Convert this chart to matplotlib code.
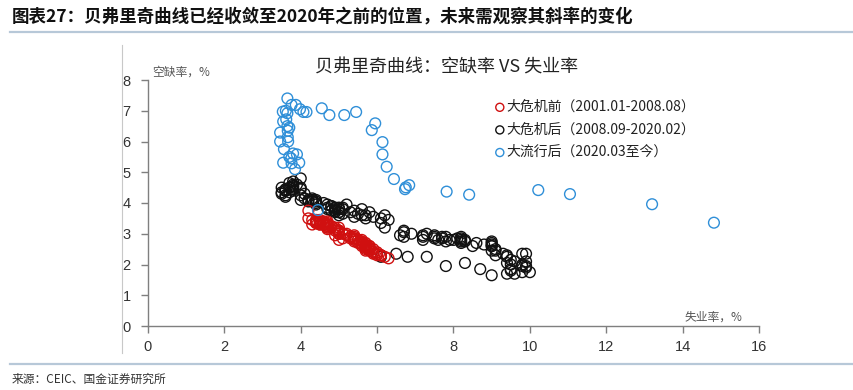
import matplotlib
matplotlib.use("Agg")
import matplotlib.pyplot as plt
from matplotlib.lines import Line2D

plt.rcParams['font.family'] = ['Noto Sans CJK SC', 'DejaVu Sans']

# ---------------- data ----------------
# 大危机前 (2001.01-2008.08): unemployment (%), vacancy (%)
red_u = [4.2, 4.2, 4.3, 4.4, 4.3, 4.5, 4.6, 4.9, 5.0, 5.3, 5.5, 5.7,
         5.7, 5.7, 5.7, 5.9, 5.8, 5.8, 5.8, 5.7, 5.7, 5.7, 5.9, 6.0,
         5.8, 5.9, 5.9, 6.0, 6.1, 6.3, 6.2, 6.1, 6.1, 6.0, 5.8, 5.7,
         5.7, 5.6, 5.8, 5.6, 5.6, 5.6, 5.5, 5.4, 5.4, 5.5, 5.4, 5.4,
         5.3, 5.4, 5.2, 5.2, 5.1, 5.0, 5.0, 4.9, 5.0, 5.0, 5.0, 4.9,
         4.7, 4.8, 4.7, 4.7, 4.6, 4.6, 4.7, 4.7, 4.5, 4.4, 4.5, 4.4,
         4.6, 4.5, 4.4, 4.5, 4.4, 4.6, 4.7, 4.6, 4.7, 4.7, 4.7, 5.0,
         5.0, 4.9, 5.1, 5.0, 5.4, 5.6, 5.8, 6.1]
red_v = [3.75, 3.50, 3.45, 3.40, 3.30, 3.35, 3.30, 3.10, 3.00, 2.85, 2.80, 2.70,
         2.65, 2.60, 2.55, 2.50, 2.55, 2.60, 2.50, 2.50, 2.55, 2.45, 2.40, 2.40,
         2.45, 2.40, 2.35, 2.30, 2.30, 2.20, 2.25, 2.30, 2.30, 2.35, 2.50, 2.60,
         2.60, 2.65, 2.60, 2.70, 2.75, 2.80, 2.70, 2.80, 2.85, 2.80, 2.90, 2.85,
         2.90, 2.95, 3.00, 2.95, 3.00, 3.10, 3.05, 3.15, 3.10, 3.20, 3.10, 3.20,
         3.30, 3.25, 3.35, 3.40, 3.30, 3.35, 3.25, 3.30, 3.40, 3.35, 3.30, 3.45,
         3.40, 3.30, 3.40, 3.45, 3.35, 3.30, 3.20, 3.30, 3.25, 3.20, 3.15, 3.00,
         3.00, 2.95, 2.85, 2.80, 2.75, 2.60, 2.45, 2.30]

# 大危机后 (2008.09-2020.02)
black_u = [6.1, 6.5, 6.8, 7.3,
           7.8, 8.3, 8.7, 9.0, 9.4, 9.5, 9.5, 9.6, 9.8, 10.0, 9.9, 9.9,
           9.8, 9.8, 9.9, 9.9, 9.6, 9.4, 9.4, 9.5, 9.5, 9.4, 9.8, 9.3,
           9.1, 9.0, 9.0, 9.1, 9.0, 9.1, 9.0, 9.0, 9.0, 8.8, 8.6, 8.5,
           8.3, 8.3, 8.2, 8.2, 8.2, 8.2, 8.2, 8.1, 7.8, 7.8, 7.7, 7.9,
           8.0, 7.7, 7.5, 7.6, 7.5, 7.5, 7.3, 7.2, 7.2, 7.2, 6.9, 6.7,
           6.6, 6.7, 6.7, 6.2, 6.3, 6.1, 6.2, 6.1, 5.9, 5.7, 5.8, 5.6,
           5.7, 5.5, 5.4, 5.4, 5.6, 5.3, 5.2, 5.1, 5.0, 5.0, 5.1, 5.0,
           4.8, 4.9, 5.0, 5.1, 4.8, 4.9, 4.8, 4.9, 5.0, 4.9, 4.7, 4.7,
           4.7, 4.6, 4.4, 4.4, 4.4, 4.3, 4.3, 4.4, 4.3, 4.2, 4.2, 4.1,
           4.0, 4.1, 4.0, 4.0, 3.8, 4.0, 3.8, 3.8, 3.7, 3.8, 3.8, 3.9,
           4.0, 3.8, 3.8, 3.7, 3.6, 3.6, 3.7, 3.6, 3.5, 3.6, 3.6, 3.6,
           3.5, 3.5]
black_v = [2.25, 2.35, 2.25, 2.25,
           1.95, 2.05, 1.85, 1.65, 1.70, 1.85, 1.80, 1.70, 1.75, 1.75, 1.90, 1.95,
           1.95, 2.00, 2.10, 2.35, 2.10, 2.05, 2.25, 2.00, 2.15, 2.30, 2.35, 2.35,
           2.30, 2.45, 2.60, 2.50, 2.70, 2.45, 2.65, 2.60, 2.75, 2.65, 2.70, 2.60,
           2.75, 2.80, 2.85, 2.75, 2.90, 2.80, 2.70, 2.85, 2.90, 2.75, 2.85, 2.80,
           2.80, 2.90, 2.85, 2.80, 2.95, 2.90, 3.00, 2.80, 2.95, 2.90, 3.00, 2.90,
           2.95, 3.10, 3.05, 3.20, 3.45, 3.35, 3.60, 3.50, 3.55, 3.50, 3.70, 3.60,
           3.60, 3.65, 3.55, 3.75, 3.80, 3.70, 3.95, 3.65, 3.60, 3.70, 3.80, 3.70,
           3.90, 3.85, 3.80, 3.85, 3.75, 3.80, 3.90, 3.75, 3.85, 3.70, 3.80, 3.85,
           3.95, 4.00, 4.05, 3.95, 4.10, 4.15, 4.05, 4.00, 4.10, 4.10, 4.05, 4.15,
           4.10, 4.30, 4.25, 4.45, 4.40, 4.50, 4.60, 4.50, 4.65, 4.55, 4.70, 4.60,
           4.80, 4.45, 4.55, 4.50, 4.45, 4.40, 4.35, 4.40, 4.30, 4.25, 4.40, 4.20,
           4.50, 4.35]

# 大流行后 (2020.03至今)
blue_u = [4.45, 14.82, 13.2, 11.05, 10.22, 8.41, 7.82, 6.84, 6.73, 6.75,
          6.44, 6.25, 6.14, 6.14, 5.86, 5.95, 5.45, 5.14, 4.75, 4.55, 4.15, 3.98,
          4.07, 3.87, 3.76, 3.65, 3.61, 3.53, 3.65, 3.54, 3.62, 3.65, 3.46, 3.66,
          3.46, 3.67, 3.66, 3.56, 3.80, 3.90, 3.70, 3.54, 3.76, 3.96, 3.85, 3.75,
          3.70]
blue_v = [3.77, 3.36, 3.96, 4.29, 4.42, 4.27, 4.37, 4.58, 4.45, 4.51,
          4.78, 5.18, 5.58, 5.98, 6.37, 6.59, 6.96, 6.86, 6.86, 7.08, 6.96, 7.05,
          6.96, 7.19, 7.19, 7.40, 7.00, 6.97, 6.92, 6.65, 6.72, 6.50, 6.29, 6.35,
          6.00, 6.00, 6.14, 5.75, 5.61, 5.58, 5.50, 5.31, 5.29, 5.31, 5.10, 5.45,
          6.45]

labels = ['大危机前（2001.01-2008.08）', '大危机后（2008.09-2020.02）', '大流行后（2020.03至今）']
colors = ['#D01010', '#111111', '#2F8FD8']

x_ticks = list(range(0, 17, 2))
y_ticks = list(range(0, 9))

# ---------------- figure ----------------
W, H = 854, 390
fig = plt.figure(figsize=(W / 100, H / 100), dpi=100)
ax = fig.add_axes([148 / W, 64 / H, 611 / W, 246 / H])

ms = 60
lw = 1.0
h_black = ax.scatter(black_u, black_v, s=ms, facecolors='none', edgecolors=colors[1], linewidths=lw, zorder=2)
h_red = ax.scatter(red_u, red_v, s=ms, facecolors='none', edgecolors=colors[0], linewidths=lw, zorder=3)
h_blue = ax.scatter(blue_u, blue_v, s=ms, facecolors='none', edgecolors=colors[2], linewidths=lw, zorder=4)

ax.set_xlim(0, 16)
ax.set_ylim(0, 8)
ax.set_xticks(x_ticks)
ax.set_yticks(y_ticks)
for s in ['top', 'right']:
    ax.spines[s].set_visible(False)
for s in ['left', 'bottom']:
    ax.spines[s].set_color('#7f7f7f')
    ax.spines[s].set_linewidth(1.0)
ax.tick_params(axis='both', direction='out', length=5, width=1.0, color='#7f7f7f',
               labelsize=10.5, labelcolor='#333333')
ax.tick_params(axis='y', pad=7.5)
ax.tick_params(axis='x', pad=5)
for lab in ax.get_xticklabels() + ax.get_yticklabels():
    lab.set_family(['Liberation Sans', 'DejaVu Sans'])

leg = ax.legend([h_red, h_black, h_blue], labels, loc='upper left',
                bbox_to_anchor=(488 / W, 1 - 93 / H), bbox_transform=fig.transFigure,
                frameon=False, fontsize=10, handlelength=0.7, handletextpad=0.15,
                labelspacing=0.62, borderpad=0, markerscale=0.75)
for t in leg.get_texts():
    t.set_color('#222222')

# axis titles and chart title
fig.text(152 / W, 1 - 72 / H, '空缺率，%', fontsize=8.5, color='#555555', ha='left', va='center')
fig.text(742 / W, 1 - 317 / H, '失业率，%', fontsize=8.5, color='#555555', ha='right', va='center')
fig.text(447 / W, 1 - 68 / H, '贝弗里奇曲线：空缺率 VS 失业率', fontsize=13, color='#222222',
         ha='center', va='center')

# header, rules, source
fig.text(12 / W, 1 - 17 / H, '图表27：贝弗里奇曲线已经收敛至2020年之前的位置，未来需观察其斜率的变化',
         fontsize=12.6, fontweight='bold', color='#111111', ha='left', va='center')
fig.add_artist(Line2D([10 / W, 1.0], [1 - 32 / H, 1 - 32 / H], color='#b7c8d8', lw=1.6))
fig.add_artist(Line2D([10 / W, 1.0], [1 - 364 / H, 1 - 364 / H], color='#b7c8d8', lw=1.6))
fig.add_artist(Line2D([122 / W, 122 / W], [1 - 45 / H, 1 - 353 / H], color='#c8c8c8', lw=0.8))
fig.text(12 / W, 1 - 379 / H, '来源：CEIC、国金证券研究所', fontsize=8.5, color='#333333',
         ha='left', va='center')

fig.savefig('out.png', dpi=100)
